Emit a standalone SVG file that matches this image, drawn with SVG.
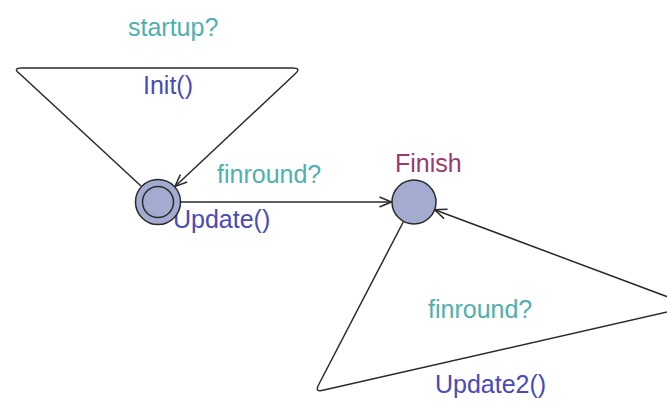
<svg xmlns="http://www.w3.org/2000/svg" width="667" height="403" viewBox="0 0 667 403">
  <style>
    .edge { fill: none; stroke: #2a2a2a; stroke-width: 1.5; stroke-linejoin: round; }
    .loc { fill: #a3acd0; stroke: #2a2a2a; stroke-width: 1.5; }
    text { font-family: "Liberation Sans", Arial, sans-serif; font-size: 25px; }
    .sync { fill: #4fb0b0; }
    .assign { fill: #4a4ab8; }
    .name { fill: #9c3a70; }
  </style>
  <defs>
    <marker id="open-arrow" markerUnits="userSpaceOnUse" markerWidth="16" markerHeight="14" refX="13" refY="6" orient="auto">
      <path d="M1,1 L13,6 L1,11" fill="none" stroke="#2a2a2a" stroke-width="1.5"/>
    </marker>
  </defs>

  <g id="edges">
    <!-- Init self-loop: startup? / Init() -->
    <path class="edge" d="M141,186 L20,74 Q12,68 22,68 L292,68 Q302,68 295,74 L175,186.5" marker-end="url(#open-arrow)"/>
    <!-- Init -> Finish: finround? / Update() -->
    <path class="edge" d="M181,202 L391.5,202" marker-end="url(#open-arrow)"/>
    <!-- Finish self-loop: finround? / Update2() -->
    <path class="edge" d="M403.5,221.5 L319,384 Q314,393 324,390 L685,308 Q694,306 684,303 L434.6,209.7" marker-end="url(#open-arrow)"/>
  </g>

  <g id="edge-labels">
    <text class="sync" x="128" y="36">startup?</text>
    <text class="assign" x="143" y="94">Init()</text>
    <text class="sync" x="217" y="183">finround?</text>
    <text class="assign" x="173" y="228">Update()</text>
    <text class="sync" x="428" y="318">finround?</text>
    <text class="assign" x="435" y="393">Update2()</text>
  </g>

  <g id="Init">
    <circle class="loc" cx="158" cy="202" r="22.5"/>
    <circle cx="158" cy="202" r="15.5" fill="none" stroke="#2a2a2a" stroke-width="1.5"/>
  </g>

  <g id="Finish">
    <circle class="loc" cx="414" cy="202" r="22"/>
    <text class="name" x="395" y="172">Finish</text>
  </g>
</svg>
